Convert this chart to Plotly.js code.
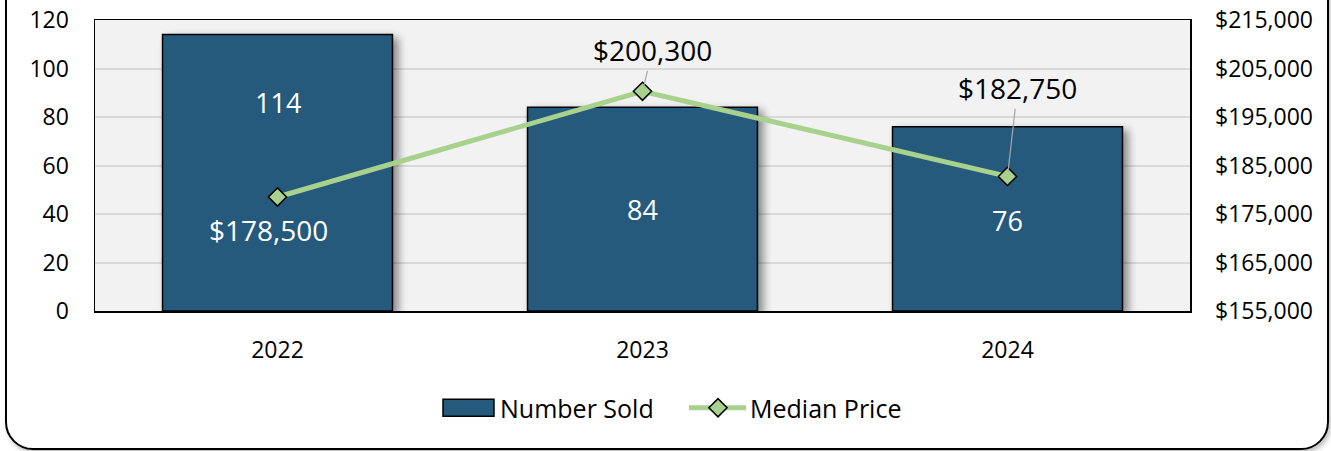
<!DOCTYPE html>
<html>
<head>
<meta charset="utf-8">
<script src="https://cdn.plot.ly/plotly-3.0.1.min.js"></script>
<style>
  html, body { margin: 0; padding: 0; background: #ffffff; }
  #wrap { position: relative; width: 1331px; height: 451px; overflow: hidden; }
  #chart { position: absolute; left: 0; top: 0; width: 1331px; height: 451px; }
  #frame {
    position: absolute; left: 5px; top: -20px; width: 1320px; height: 466px;
    border: 2px solid #000; border-radius: 0 0 28px 28px;
    box-shadow: 2px 3px 4px rgba(0,0,0,0.25);
    pointer-events: none; box-sizing: content-box;
  }
  #chart .trace.bars .point path { filter: drop-shadow(5px 4px 4px rgba(0,0,0,0.45)); }
</style>
</head>
<body>
<div id="wrap">
  <div id="chart"></div>
  <div id="frame"></div>
</div>
<script>
// ---- data ----
const years = ["2022", "2023", "2024"];
const numberSold = [114, 84, 76];
const medianPrice = [178500, 200300, 182750];
const priceLabels = ["$178,500", "$200,300", "$182,750"];
const soldLabels = ["114", "84", "76"];
const soldTicks = [0, 20, 40, 60, 80, 100, 120];
const priceTicks = [155000, 165000, 175000, 185000, 195000, 205000, 215000];
const priceTickText = ["$155,000", "$165,000", "$175,000", "$185,000", "$195,000", "$205,000", "$215,000"];

// ---- styles ----
const FONT = "Open Sans, Noto Sans, sans-serif";
const barColor = "#265a7d";
const lineColor = "#a9d18e";
// pixel offsets of labels (styles)
const soldLabelShift = [70, 0, -2];
const priceLabelOffsets = [[-9, 33, false], [10, -41, true], [10, -88, true]];

const traces = [
  {
    type: "bar", name: "Number Sold", x: years, y: numberSold,
    marker: { color: barColor, line: { color: "#000", width: 1.5 } },
    width: 0.63, yaxis: "y", hoverinfo: "skip"
  },
  {
    type: "scatter", mode: "lines+markers", name: "Median Price", x: years, y: medianPrice,
    yaxis: "y2",
    line: { color: lineColor, width: 5 },
    marker: { symbol: "diamond", size: 14, color: lineColor, line: { color: "#000", width: 1.5 } },
    hoverinfo: "skip"
  }
];

const annotations = [];
years.forEach((yr, i) => {
  annotations.push({
    x: i, y: numberSold[i] / 2, xref: "x", yref: "y",
    text: soldLabels[i], showarrow: false, yshift: soldLabelShift[i],
    font: { family: FONT, size: 27, color: "#ffffff" }
  });
  const off = priceLabelOffsets[i];
  if (off[2]) {
    annotations.push({
      x: i, y: medianPrice[i], xref: "x", yref: "y2",
      text: priceLabels[i], showarrow: true, ax: off[0], ay: off[1],
      arrowhead: 0, arrowwidth: 1.2, arrowcolor: "#a6a6a6", standoff: 5, startstandoff: 0,
      font: { family: FONT, size: 28, color: "#000" }
    });
  } else {
    annotations.push({
      x: i, y: medianPrice[i], xref: "x", yref: "y2",
      text: priceLabels[i], showarrow: false, xshift: off[0], yshift: -off[1],
      font: { family: FONT, size: 28, color: "#ffffff" }
    });
  }
});

const layout = {
  width: 1331, height: 451,
  margin: { l: 95, r: 141, t: 20, b: 140 },
  paper_bgcolor: "rgba(0,0,0,0)",
  plot_bgcolor: "#f2f2f2",
  font: { family: FONT, size: 23, color: "#000" },
  showlegend: true,
  legend: {
    orientation: "h", xref: "container", yref: "container",
    x: 460 / 1331, xanchor: "left", y: 1 - 408 / 451, yanchor: "middle",
    font: { family: FONT, size: 25, color: "#000" },
    traceorder: "normal", entrywidth: 205, borderwidth: 0
  },
  xaxis: {
    type: "category", range: [-0.5, 2.5], showgrid: false, ticks: "", ticklabelstandoff: 18,
    showline: true, linecolor: "#000", linewidth: 1.5, mirror: true,
    tickfont: { family: FONT, size: 23 }, zeroline: false
  },
  yaxis: {
    range: [0, 120], tickvals: soldTicks,
    showgrid: true, gridcolor: "#d9d9d9", gridwidth: 2,
    showline: true, linecolor: "#000", linewidth: 1.5, mirror: true,
    ticks: "", ticklabelstandoff: 20, zeroline: false,
    tickfont: { family: FONT, size: 23 }
  },
  yaxis2: {
    overlaying: "y", side: "right", range: [155000, 215000],
    tickvals: priceTicks, ticktext: priceTickText,
    showgrid: false, showline: false, ticks: "", ticklabelstandoff: 24, zeroline: false,
    tickfont: { family: FONT, size: 23 }
  },
  annotations: annotations
};

Plotly.newPlot("chart", traces, layout, { staticPlot: true, displayModeBar: false }).then(() => {
  // widen legend symbols to resemble the reference (style only)
  document.querySelectorAll("#chart .legend [clip-path]").forEach(el => el.removeAttribute("clip-path"));
  const items = document.querySelectorAll("#chart .legend .traces");
  items.forEach((it, k) => {
    const pts = it.querySelectorAll(".legendpoints path");
    if (k === 0) {
      pts.forEach(p => p.setAttribute("d", "M-37,-8.5h51v17h-51Z"));
    } else {
      const ln = it.querySelector(".legendlines path");
      if (ln) ln.setAttribute("d", "M-21,0h57");
      pts.forEach(p => p.setAttribute("transform", "translate(8,0)"));
    }
  });
});
</script>
</body>
</html>
